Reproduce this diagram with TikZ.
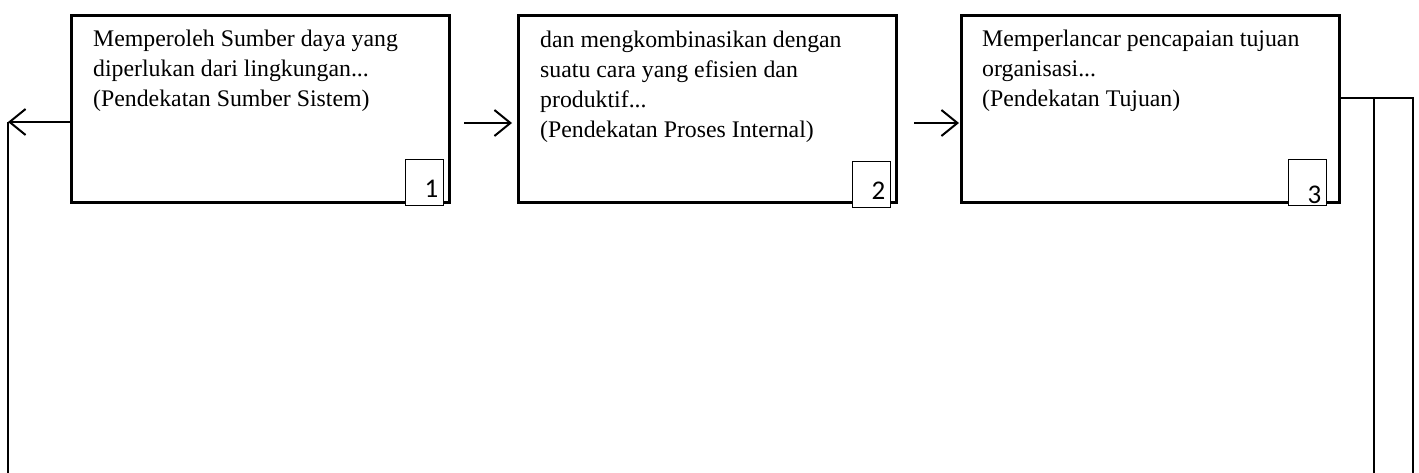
\documentclass[tikz,border=0pt]{standalone}
\usepackage{fontspec}
\setmainfont{Liberation Serif}
\newfontfamily\numfont{Carlito}
\usetikzlibrary{arrows.meta,calc}
\begin{document}
\begin{tikzpicture}[x=1pt,y=-1pt,
  mainbox/.style={draw,line width=3pt,minimum width=378pt,minimum height=187pt,inner sep=0pt,anchor=north west},
  numbox/.style={draw,line width=1pt,fill=white,minimum width=38pt,minimum height=46pt,inner sep=0pt},
  numtext/.style={font=\numfont\fontsize{27}{29}\selectfont,inner sep=0pt,anchor=base east},
  bodytext/.style={inner sep=0pt,anchor=base west,font=\fontsize{23.8}{30}\selectfont},
  conn/.style={line width=2pt},
  arr/.style={line width=2pt,-{Straight Barb[length=16pt,width=26pt,line width=2pt]}}
]
\useasboundingbox (0,0) rectangle (1419,473);
\fill[white] (0,0) rectangle (1419,473);
% main boxes
\node[mainbox] (b1) at (70,14) {};
\node[mainbox] (b2) at (517,14) {};
\node[mainbox] (b3) at (960,14) {};
% texts
\node[bodytext] (t1) at (93,47) {\parbox[t]{360pt}{Memperoleh Sumber daya yang\\ diperlukan dari lingkungan...\\ (Pendekatan Sumber Sistem)}};
\node[bodytext] (t2) at (540,48) {\parbox[t]{360pt}{dan mengkombinasikan dengan\\ suatu cara yang efisien dan\\ produktif...\\ (Pendekatan Proses Internal)}};
\node[bodytext] (t3) at (982,47) {\parbox[t]{360pt}{Memperlancar pencapaian tujuan\\ organisasi...\\ (Pendekatan Tujuan)}};
% number boxes
\node[numbox] (n1) at (424,183) {};
\node[numbox] (n2) at (871,185) {};
\node[numbox] (n3) at (1307,183) {};
\node[numtext] (l1) at ([xshift=-5pt]n1.east |- 0,198) {1};
\node[numtext] (l2) at ([xshift=-5pt]n2.east |- 0,200) {2};
\node[numtext] (l3) at ([xshift=-5pt]n3.east |- 0,204) {3};
% connectors
\coordinate (fl) at (8,122);
\coordinate (flb) at (8,473);
\draw[arr] (b1.west |- fl) -- (fl);
\draw[conn] (fl) -- (flb);
\draw[arr] ([xshift=13pt,yshift=-14pt]b1.east) -- ([xshift=-5pt,yshift=-14pt]b2.west);
\draw[arr] ([xshift=16pt,yshift=-14pt]b2.east) -- ([xshift=-1pt,yshift=-14pt]b3.west);
\coordinate (r1) at (1374,98);
\coordinate (r2) at (1413,98);
\coordinate (r1b) at (1374,473);
\coordinate (r2b) at (1413,473);
\draw[conn] (b3.east |- r2) -- (r2) -- (r2b);
\draw[conn] (r1) -- (r1b);
\end{tikzpicture}
\end{document}
